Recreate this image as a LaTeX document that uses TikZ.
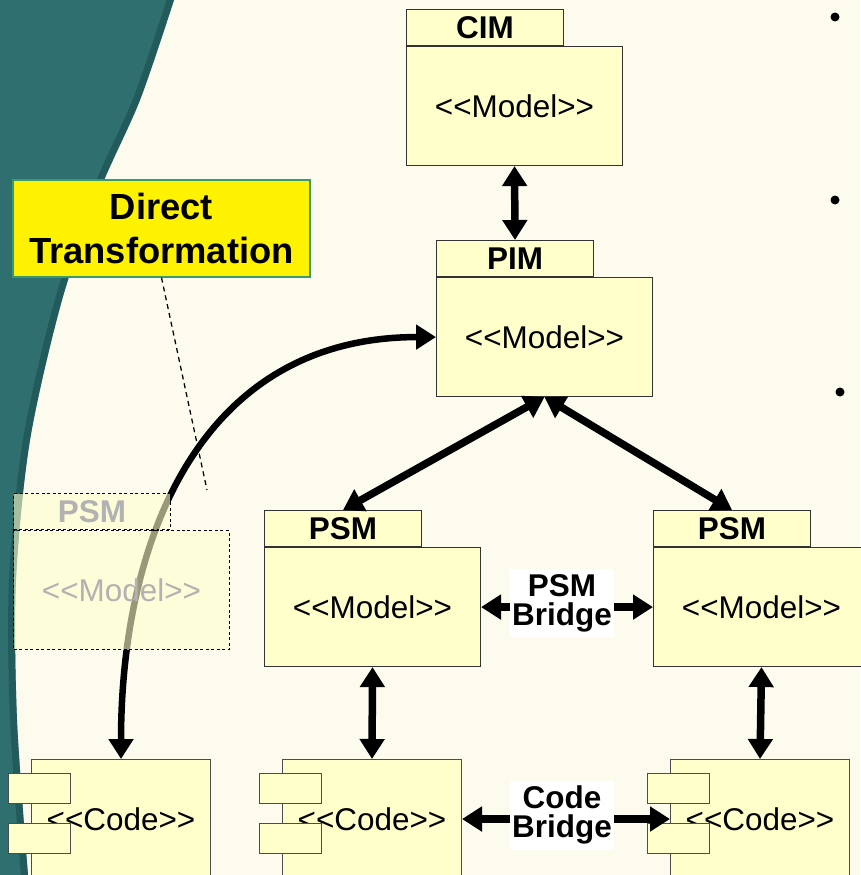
\documentclass[tikz,border=0pt]{standalone}
\usepackage{fontspec}
\setmainfont{Liberation Sans}[Ligatures=TeXOff]
\usepackage{tikz}
\usetikzlibrary{positioning,arrows.meta}
\definecolor{cream}{HTML}{FDFBEE}
\definecolor{band}{HTML}{2F6F70}
\definecolor{bandedge}{HTML}{1C4E50}
\definecolor{pkgfill}{HTML}{FFFFCC}
\definecolor{notegreen}{HTML}{3A9A6A}
% package: [extra options]{name}{x}{y}{title}, x/y = top left of the tab
\newcommand\package[5][]{%
\node[pkgtab, anchor=north west, #1] (#2 tab) at (#3,#4) {#5};
\node[pkgbody, anchor=north west, #1] (#2) at (#2 tab.south west) {<<Model>>};
}
% component: {name}{x}{y}, x/y = top left of the body
\newcommand\component[3]{%
\node[codebody, anchor=north west] (#1) at (#2,#3) {<<Code>>};
\node[codeport, anchor=north west] (#1 p1) at ([xshift=-0.46cm,yshift=-0.28cm]#1.north west) {};
\node[codeport, anchor=north west] (#1 p2) at ([xshift=-0.46cm,yshift=-1.28cm]#1.north west) {};
}

\begin{document}
\begin{tikzpicture}[x=0.02cm,y=-0.02cm,
	every node/.style={font=\fontsize{17.9}{21}\selectfont, inner sep=0pt},
	pkgtab/.style={draw=black!80, fill=pkgfill, line width=0.6pt, minimum width=3.14cm, minimum height=0.72cm, font=\fontsize{17.9}{21}\selectfont\bfseries},
	pkgbody/.style={draw=black!80, fill=pkgfill, line width=0.6pt, minimum width=4.32cm, minimum height=2.38cm},
	codebody/.style={draw=black!70, fill=pkgfill, line width=0.6pt, minimum width=3.58cm, minimum height=2.38cm},
	codeport/.style={draw=black!70, fill=pkgfill, line width=0.6pt, minimum width=1.24cm, minimum height=0.6cm},
	ghost/.style={dash pattern=on 0.06cm off 0.05cm, draw=black, fill opacity=0.6, text opacity=1, text=black!30},
	bridge/.style={fill=white, align=center, inner xsep=1pt, inner ysep=3pt, font=\fontsize{17.9}{16.5}\selectfont\bfseries},
	fat/.tip={Triangle[width=0.48cm,length=0.4cm]},
	link/.style={line width=0.15cm, fat-fat},
	]
	%% background and the teal band
	\useasboundingbox (0,0) rectangle (860,875);
	\fill[cream] (0,0) rectangle (860,875);
	\def\bandpath{(0,0) -- plot[smooth] coordinates {(174,0) (140,100) (100,190) (62,300) (30,440) (16,580) (17,720) (28,875)} -- (0,875) -- cycle}
	\fill[band] \bandpath;
	\begin{scope}
		\clip \bandpath;
		\draw[bandedge, line width=0.28cm, opacity=0.6] plot[smooth] coordinates {(174,0) (140,100) (100,190) (62,300) (30,440) (16,580) (17,720) (28,875)};
	\end{scope}
	
	% bullets of the cut off text
	\fill (835,17) circle (0.09cm);
	\fill (835,200) circle (0.09cm);
	\fill (840,392) circle (0.09cm);
	
	%% the models
	\package{cim}{406}{9}{CIM}
	\package{pim}{436}{240}{PIM}
	\package{psmA}{264}{510}{PSM}
	\package{psmB}{653}{510}{PSM}
	
	%% the code
	\component{codeX}{31}{759}
	\component{codeA}{282}{759}
	\component{codeB}{670}{759}
	
	%% labels
	\node[fill=yellow, draw=notegreen, line width=0.03cm, minimum width=5.94cm, minimum height=1.94cm, align=center,
		font=\fontsize{20.7}{25.5}\selectfont\bfseries] (direct) at (161.5,228.5) {Direct\\Transformation};
	\node[bridge] (psmbridge) at (562,603) {PSM\\Bridge};
	\node[bridge] (codebridge) at (562,815) {Code\\Bridge};
	
	\coordinate (directend) at (207,490);
	\draw[dash pattern=on 0.1cm off 0.08cm, line width=0.025cm] (direct.south) -- (directend);
	
	%% connections
	\draw[link] (cim.south) -- (pim tab.north);
	\draw[link] (pim.south) -- (psmA tab.north);
	\draw[link] (pim.south) -- (psmB tab.north);
	\draw[link] (psmA.south) -- (codeA.north);
	\draw[link] (psmB.south) -- (codeB.north);
	\draw[line width=0.15cm, -fat] (psmbridge.west |- psmA.east) -- (psmA.east);
	\draw[line width=0.15cm, -fat] (psmbridge.east |- psmB.west) -- (psmB.west);
	\draw[line width=0.15cm, -fat] (codebridge.west |- codeA.east) -- (codeA.east);
	\draw[line width=0.15cm, -fat] (codebridge.east |- codeB.west) -- (codeB.west);
	\draw[link, line width=0.13cm] (codeX.north) to[out=90, in=180, out distance=4.38cm, in distance=4.72cm] (pim.west);
	
	% the skipped PSM, faded over the curve
	\package[ghost]{psmX}{13}{493}{PSM}
\end{tikzpicture}
\end{document}
